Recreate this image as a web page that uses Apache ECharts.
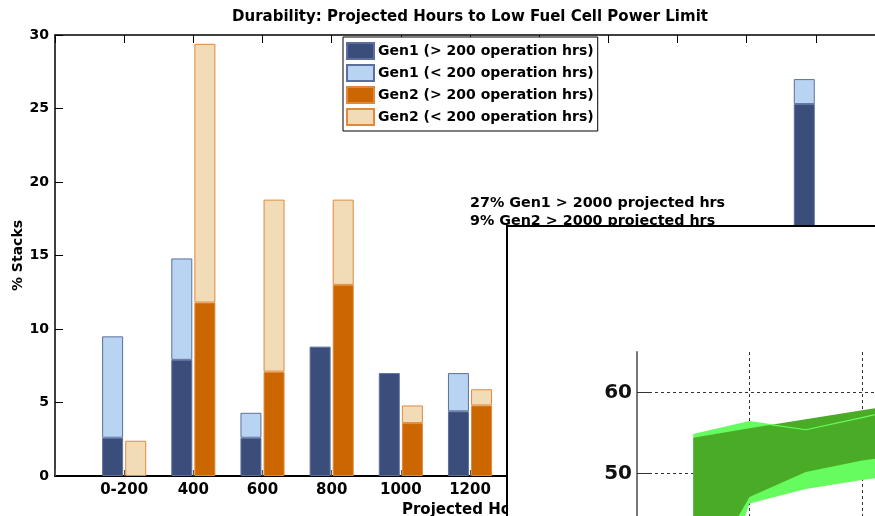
<!DOCTYPE html>
<html><head><meta charset="utf-8">
<script src="https://cdn.jsdelivr.net/npm/echarts@6/dist/echarts.min.js"></script>
<style>html,body{margin:0;padding:0;background:#fff}#c{width:875px;height:516px}</style>
</head><body><div id="c"></div>
<script>
// ---- main chart data (% of stacks) ----
const categories = ['0-200', '400', '600', '800', '1000', '1200', '1400', '1600', '1800', '2000', '>2000'];
const gen1Over200  = [2.6, 7.9, 2.6, 8.8, 7.0, 4.4, null, null, null, null, 25.3];
const gen1Under200 = [6.9, 6.9, 1.7, null, null, 2.6, null, null, null, null, 1.7];
const gen2Over200  = [null, 11.8, 7.1, 13.0, 3.6, 4.8, null, null, null, null, 9.0];
const gen2Under200 = [2.4, 17.6, 11.7, 5.8, 1.2, 1.1, null, null, null, null, null];
const yTicks = [0, 5, 10, 15, 20, 25, 30];

// ---- inset chart data ----
const insetX    = ['0', '0.5', '1', '1.5', '2', '2.5', '3'];
const lightLow  = [null, 26.0, 46.3, 48.1, 49.2, 50.1, null];
const lightHigh = [null, 54.8, 56.4, 55.4, 56.9, 58.5, null];
const darkLow   = [null, 35.0, 47.1, 50.2, 51.6, 52.6, null];
const darkHigh  = [null, 54.4, 55.6, 56.7, 57.8, 58.9, null];
const insetTicks = [50, 60];

const FONT = 'DejaVu Sans';
const C = {
  g1d: '#3a4d7b', g1l: '#b9d4f2', g1b: '#5c6f9c',
  g2d: '#cc6600', g2l: '#f2dcb8', g2b: '#e0893a',
  dk: '#4aac26', lt: '#66fc5f'
};

// empty slots at both ends of the main category axis (axis starts one slot before 0-200)
const mainCats = [''].concat(categories, [' ']);
const pad = arr => [null].concat(arr, [null]);
const diff = (hi, lo) => hi.map((v, i) => (v == null || lo[i] == null) ? null : +(v - lo[i]).toFixed(2));

const chart = echarts.init(document.getElementById('c'), null, {renderer: 'canvas'});

function barSeries(name, data, stack, color, border) {
  return {
    name, type: 'bar', stack, data: pad(data), barWidth: 21, barGap: '10%',
    itemStyle: {color, borderColor: border, borderWidth: 1}, z: 2
  };
}
function invisibleBase(data, stack) {
  return {
    type: 'line', xAxisIndex: 2, yAxisIndex: 1, stack, data: data,
    symbol: 'none', lineStyle: {opacity: 0}, z: 110, silent: true
  };
}

chart.setOption({
  animation: false,
  backgroundColor: '#fff',
  textStyle: {fontFamily: FONT},
  grid: [
    {left: 55, top: 35, width: 830, height: 441, outerBoundsMode: 'none', containLabel: false},
    {left: 637, top: 352, width: 337.5, height: 202.5, z: 110, outerBoundsMode: 'none', containLabel: false}
  ],
  legend: {
    data: ['Gen1 (> 200 operation hrs)', 'Gen1 (< 200 operation hrs)', 'Gen2 (> 200 operation hrs)', 'Gen2 (< 200 operation hrs)'],
    orient: 'vertical', left: 343, top: 37,
    itemWidth: 27, itemHeight: 16, itemGap: 4, icon: 'rect',
    padding: [5, 4, 5, 3],
    borderColor: '#000', borderWidth: 1, backgroundColor: '#fff',
    textStyle: {fontFamily: FONT, fontWeight: 'bold', fontSize: 14, color: '#000', padding: [0, 0, 0, -1]}
  },
  xAxis: [
    {
      type: 'category', gridIndex: 0, data: mainCats, boundaryGap: false, position: 'bottom',
      name: 'Projected Hours', nameLocation: 'middle', nameGap: 22,
      nameTextStyle: {fontFamily: FONT, fontWeight: 'bold', fontSize: 15, color: '#000'},
      axisLine: {lineStyle: {color: '#000', width: 2}},
      axisTick: {inside: true, length: 6, interval: 0, lineStyle: {color: '#555'}},
      axisLabel: {margin: 7, interval: 0, fontFamily: FONT, fontWeight: 'bold', fontSize: 15, color: '#000'},
      splitLine: {show: false}
    },
    {
      type: 'category', gridIndex: 0, data: mainCats, boundaryGap: false, position: 'top',
      axisLine: {lineStyle: {color: '#000', width: 1.5}},
      axisTick: {inside: true, length: 8, interval: 0, lineStyle: {color: '#000'}},
      axisLabel: {show: false}, splitLine: {show: false}
    },
    {
      type: 'category', gridIndex: 1, data: insetX, boundaryGap: false, z: 110,
      axisLine: {show: false}, axisTick: {show: false}, axisLabel: {show: false},
      splitLine: {show: true, interval: 1, lineStyle: {color: '#333', type: [3, 3], width: 1}}
    }
  ],
  yAxis: [
    {
      type: 'value', gridIndex: 0, min: 0, max: 30, interval: 5,
      name: '% Stacks', nameLocation: 'middle', nameGap: 30, nameMoveOverlap: false,
      nameTextStyle: {fontFamily: FONT, fontWeight: 'bold', fontSize: 14, color: '#000'},
      axisLine: {show: true, lineStyle: {color: '#000', width: 1.5}},
      axisTick: {show: true, inside: true, length: 8, lineStyle: {color: '#000'}},
      axisLabel: {margin: 6, fontFamily: FONT, fontWeight: 'bold', fontSize: 14, color: '#000',
        formatter: v => yTicks.includes(v) ? String(v) : ''},
      splitLine: {show: false}
    },
    {
      type: 'value', gridIndex: 1, min: 40, max: 65, interval: 10, z: 110,
      axisLine: {show: true, lineStyle: {color: '#777', width: 2}},
      axisTick: {show: true, inside: true, length: 12, lineStyle: {color: '#333'}, customValues: insetTicks},
      axisLabel: {margin: 5, fontFamily: FONT, fontWeight: 'bold', fontSize: 20, color: '#111',
        customValues: insetTicks},
      splitLine: {show: true, lineStyle: {color: '#333', type: [3, 3], width: 1}}
    }
  ],
  graphic: [
    {type: 'text', x: 470, y: 17, z: 5, style: {text: 'Durability: Projected Hours to Low Fuel Cell Power Limit',
      font: 'bold 15px "DejaVu Sans"', fill: '#000', align: 'center', verticalAlign: 'middle'}},
    {type: 'text', x: 470, y: 194, z: 1, style: {text: '27% Gen1 > 2000 projected hrs\n9% Gen2 > 2000 projected hrs',
      font: 'bold 14.3px "DejaVu Sans"', lineHeight: 18, fill: '#000', align: 'left', verticalAlign: 'top'}},
    {type: 'rect', z: 100, shape: {x: 507, y: 226, width: 420, height: 330},
      style: {fill: '#fff', stroke: '#000', lineWidth: 2}}
  ],
  series: [
    barSeries('Gen1 (> 200 operation hrs)', gen1Over200, 'g1', C.g1d, C.g1b),
    barSeries('Gen1 (< 200 operation hrs)', gen1Under200, 'g1', C.g1l, C.g1b),
    barSeries('Gen2 (> 200 operation hrs)', gen2Over200, 'g2', C.g2d, C.g2b),
    barSeries('Gen2 (< 200 operation hrs)', gen2Under200, 'g2', C.g2l, C.g2b),
    invisibleBase(lightLow, 'L'),
    {type: 'line', xAxisIndex: 2, yAxisIndex: 1, stack: 'L', data: diff(lightHigh, lightLow),
      symbol: 'none', lineStyle: {opacity: 0}, areaStyle: {color: C.lt, opacity: 1}, z: 110},
    invisibleBase(darkLow, 'D'),
    {type: 'line', xAxisIndex: 2, yAxisIndex: 1, stack: 'D', data: diff(darkHigh, darkLow),
      symbol: 'none', lineStyle: {opacity: 0}, areaStyle: {color: C.dk, opacity: 1}, z: 110},
    {type: 'line', xAxisIndex: 2, yAxisIndex: 1, data: lightHigh, symbol: 'none',
      lineStyle: {color: C.lt, width: 1.2}, z: 111}
  ]
});
</script>
</body></html>
